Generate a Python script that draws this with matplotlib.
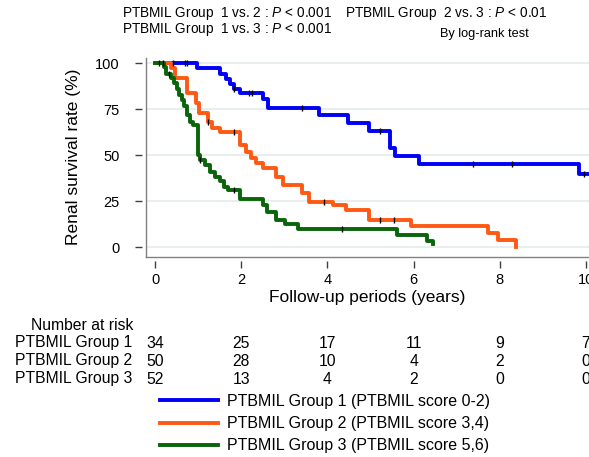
import numpy as np
import matplotlib
matplotlib.use("Agg")
import matplotlib.pyplot as plt
import matplotlib.transforms as mtransforms

plt.rcParams['font.family'] = ['Liberation Sans', 'DejaVu Sans']
plt.rcParams['mathtext.fontset'] = 'custom'
plt.rcParams['mathtext.rm'] = 'Liberation Sans'
plt.rcParams['mathtext.it'] = 'Liberation Sans:italic'

# Kaplan-Meier steps (time in years, survival in %)
g1_time = [0, 0.97, 1.5, 1.64, 1.74, 1.84, 1.96, 2.5, 2.63, 3.8, 4.47, 4.97, 5.46, 5.57, 6.12, 9.83, 10.1]
g1_surv = [100, 97.1, 94.0, 91.1, 88.4, 85.7, 83.5, 80.3, 75.7, 71.7, 67.2, 62.9, 53.6, 49.5, 44.9, 39.7, 39.7]
g1_cens = [0.42, 0.69, 0.75, 1.84, 2.19, 2.25, 3.42, 5.23, 7.37, 8.28, 9.96]

g2_time = [0, 0.38, 0.46, 0.73, 0.96, 1.03, 1.23, 1.33, 1.5, 1.96, 2.1, 2.23, 2.34, 2.5,
           2.8, 2.97, 3.42, 3.57, 4.12, 4.44, 4.96, 5.93, 7.72, 7.95, 8.37]
g2_surv = [100, 97.1, 91.7, 83.5, 78.1, 73.0, 68.1, 64.5, 62.7, 55.4, 51.8, 48.2, 45.5, 42.8,
           38.2, 33.7, 29.2, 24.6, 22.8, 20.1, 14.7, 11.4, 7.8, 3.8, 0]
g2_cens = [0.18, 1.23, 1.84, 3.92, 5.23, 5.55]

g3_time = [0, 0.2, 0.25, 0.38, 0.43, 0.5, 0.56, 0.62, 0.67, 0.73, 0.81, 0.88, 1.0, 1.05, 1.15,
           1.27, 1.38, 1.5, 1.61, 1.69, 1.96, 2.5, 2.59, 2.8, 3.01, 3.32, 5.62, 6.3, 6.45]
g3_surv = [100, 98.1, 94.2, 91.7, 89.0, 85.7, 82.6, 79.7, 76.6, 71.7, 68.1, 66.3, 50.0, 47.3, 44.6,
           40.9, 38.2, 35.9, 32.8, 31.0, 26.4, 22.8, 19.2, 14.7, 12.5, 9.8, 6.5, 3.4, 1.5]
g3_cens = [0.1, 0.33, 1.05, 1.84, 4.34]

labels = ["PTBMIL Group 1 (PTBMIL score 0-2)",
          "PTBMIL Group 2 (PTBMIL score 3,4)",
          "PTBMIL Group 3 (PTBMIL score 5,6)"]
row_names = ["PTBMIL Group 1", "PTBMIL Group 2", "PTBMIL Group 3"]
risk_times = [0, 2, 4, 6, 8, 10]
risk_g1 = [34, 25, 17, 11, 9, 7]
risk_g2 = [50, 28, 10, 4, 2, 0]
risk_g3 = [52, 13, 4, 2, 0, 0]
colors = ["#0000F5", "#FF5A14", "#0A640A"]


def step_value(times, surv, t):
    i = np.searchsorted(times, t, side="right") - 1
    return np.asarray(surv)[i]


fig = plt.figure(figsize=(5.89, 4.57), dpi=100)
ax = fig.add_axes([0.2479, 0.4376, 0.7521, 0.4364])

handles = []
groups = [(g1_time, g1_surv, g1_cens), (g2_time, g2_surv, g2_cens), (g3_time, g3_surv, g3_cens)]
for (t, s, c), col, lab in zip(groups, colors, labels):
    h, = ax.step(t, s, where="post", color=col, lw=2.8, label=lab, zorder=3)
    handles.append(h)
for (t, s, c) in groups:
    ax.plot(c, step_value(t, s, c), ls="none", marker="|", ms=4, mew=1.0, color="black", zorder=4)

ax.set_xlim(-0.21, 10.07)
ax.set_ylim(-5.4, 103)
ax.set_xticks([0, 2, 4, 6, 8, 10])
ax.set_yticks([0, 25, 50, 75, 100])
for y in [0, 25, 50, 75, 100]:
    ax.axhline(y, color="#E8EEEE", lw=1.4, zorder=1)

for side in ["top", "right"]:
    ax.spines[side].set_visible(False)
for side in ["left", "bottom"]:
    ax.spines[side].set_position(("outward", 3))
    ax.spines[side].set_visible(False)
ax.plot([0, 0], [0, 1], transform=ax.transAxes, color="#808080", lw=1.0, clip_on=False)
ax.plot([0, 1], [0, 0], transform=ax.transAxes, color="#808080", lw=1.0, clip_on=False)
ax.tick_params(direction="out", length=5, width=1.0, color="#404040", labelsize=10.5)
ax.tick_params(axis="y", pad=11)
ax.tick_params(axis="x", pad=3.5)

ax.set_ylabel("Renal survival rate (%)", fontsize=12.5, labelpad=10)
ax.set_xlabel("Follow-up periods (years)", fontsize=12.5, labelpad=2)

# p-values
fig.text(122 / 589, 1 - 14 / 457, r"PTBMIL Group  1 vs. 2 : $\mathit{P}$ < 0.001", fontsize=9.8, va="center")
fig.text(122 / 589, 1 - 30 / 457, r"PTBMIL Group  1 vs. 3 : $\mathit{P}$ < 0.001", fontsize=9.8, va="center")
fig.text(345 / 589, 1 - 14 / 457, r"PTBMIL Group  2 vs. 3 : $\mathit{P}$ < 0.01", fontsize=9.8, va="center")
fig.text(440 / 589, 1 - 34 / 457, "By log-rank test", fontsize=9.2, va="center")

# number at risk table
trans = mtransforms.blended_transform_factory(ax.transData, fig.transFigure)
fig.text(31 / 589, 1 - 325 / 457, "Number at risk", fontsize=11.3, va="center")
rows_y = [343, 361, 379]
for name, vals, yy in zip(row_names, [risk_g1, risk_g2, risk_g3], rows_y):
    fig.text(15 / 589, 1 - yy / 457, name, fontsize=11.3, va="center")
    for tt, v in zip(risk_times, vals):
        ax.text(tt, 1 - yy / 457, str(v), transform=trans, fontsize=11.3,
                ha="center", va="center", clip_on=False)

fig.legend(handles=handles, loc="upper left", bbox_to_anchor=(160 / 589, 1 - 394 / 457),
           frameon=False, fontsize=11.5, handlelength=3.6, handletextpad=0.6,
           labelspacing=0.45, borderpad=0, borderaxespad=0)

fig.savefig("out.png", dpi=100)
